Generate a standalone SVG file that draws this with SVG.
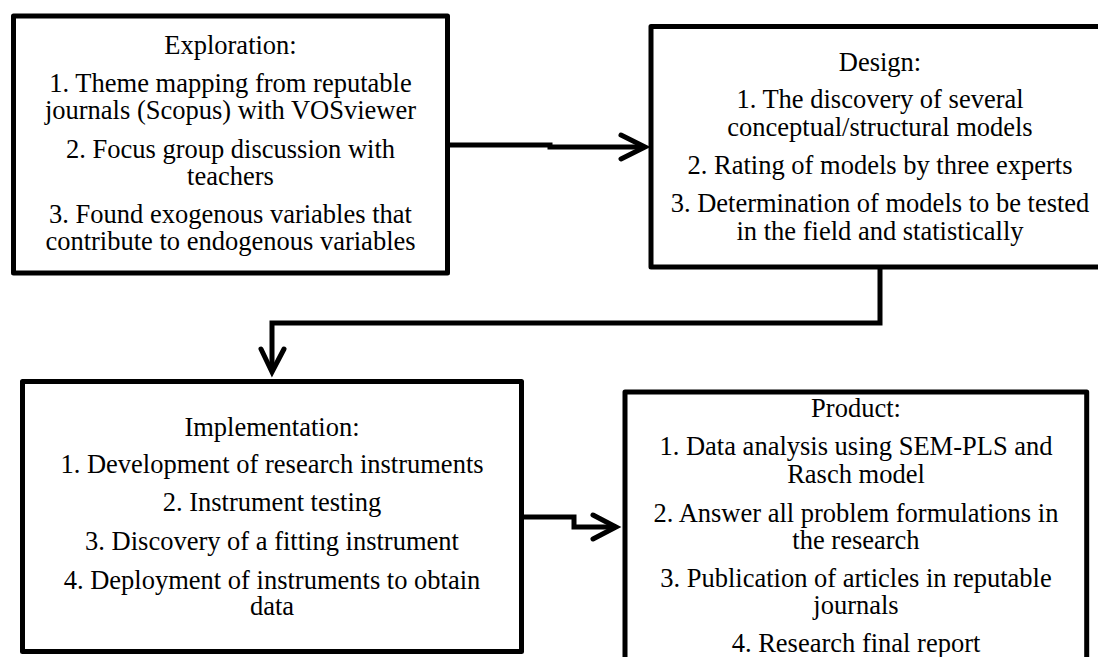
<svg xmlns="http://www.w3.org/2000/svg" width="1098" height="657" viewBox="0 0 1098 657">
<defs>
<style>
.box{fill:#fff;stroke:#000;stroke-width:5;stroke-linejoin:round}
.c{fill:none;stroke:#000;stroke-width:5;stroke-linejoin:miter}
.ah{fill:none;stroke:#000;stroke-width:5;stroke-linecap:round;stroke-linejoin:miter}
</style>
</defs>
<rect width="1098" height="657" fill="#fff"/>
<g id="connectors">
<path class="c" d="M448,145 H550 V147 H643"/>
<path class="ah" d="M621,135 L645,147 L621,159"/>
<path class="c" d="M880,267 V323 H272 V369"/>
<path class="ah" d="M261,349 L272,372 L284,349"/>
<path class="c" d="M521,517 H574 V527 H613"/>
<path class="ah" d="M593,515 L616,527 L593,539"/>
</g>
<g font-family="'Liberation Serif', serif" font-size="26.5" fill="#000" text-anchor="middle">
<g id="exploration">
<rect class="box" x="13.5" y="16" width="434" height="257"/>
<text x="230.5" y="54">Exploration:</text>
<text x="230.5" y="92">1. Theme mapping from reputable</text>
<text x="230.5" y="119">journals (Scopus) with VOSviewer</text>
<text x="230.5" y="158">2. Focus group discussion with</text>
<text x="230.5" y="185">teachers</text>
<text x="230.5" y="223">3. Found exogenous variables that</text>
<text x="230.5" y="250">contribute to endogenous variables</text>
</g>
<g id="design">
<rect class="box" x="651" y="26.5" width="460" height="240.5"/>
<text x="880" y="71">Design:</text>
<text x="880" y="108">1. The discovery of several</text>
<text x="880" y="136">conceptual/structural models</text>
<text x="880" y="174">2. Rating of models by three experts</text>
<text x="880" y="212">3. Determination of models to be tested</text>
<text x="880" y="240">in the field and statistically</text>
</g>
<g id="implementation">
<rect class="box" x="22.5" y="381.5" width="499" height="270"/>
<text x="272" y="436">Implementation:</text>
<text x="272" y="472.5">1. Development of research instruments</text>
<text x="272" y="511">2. Instrument testing</text>
<text x="272" y="550">3. Discovery of a fitting instrument</text>
<text x="272" y="588.5">4. Deployment of instruments to obtain</text>
<text x="272" y="615">data</text>
</g>
<g id="product">
<rect class="box" x="625" y="392" width="461.7" height="280"/>
<text x="856" y="417">Product:</text>
<text x="856" y="455">1. Data analysis using SEM-PLS and</text>
<text x="856" y="483">Rasch model</text>
<text x="856" y="522">2. Answer all problem formulations in</text>
<text x="856" y="548.5">the research</text>
<text x="856" y="587">3. Publication of articles in reputable</text>
<text x="856" y="613.5">journals</text>
<text x="856" y="652">4. Research final report</text>
</g>
</g>
</svg>
